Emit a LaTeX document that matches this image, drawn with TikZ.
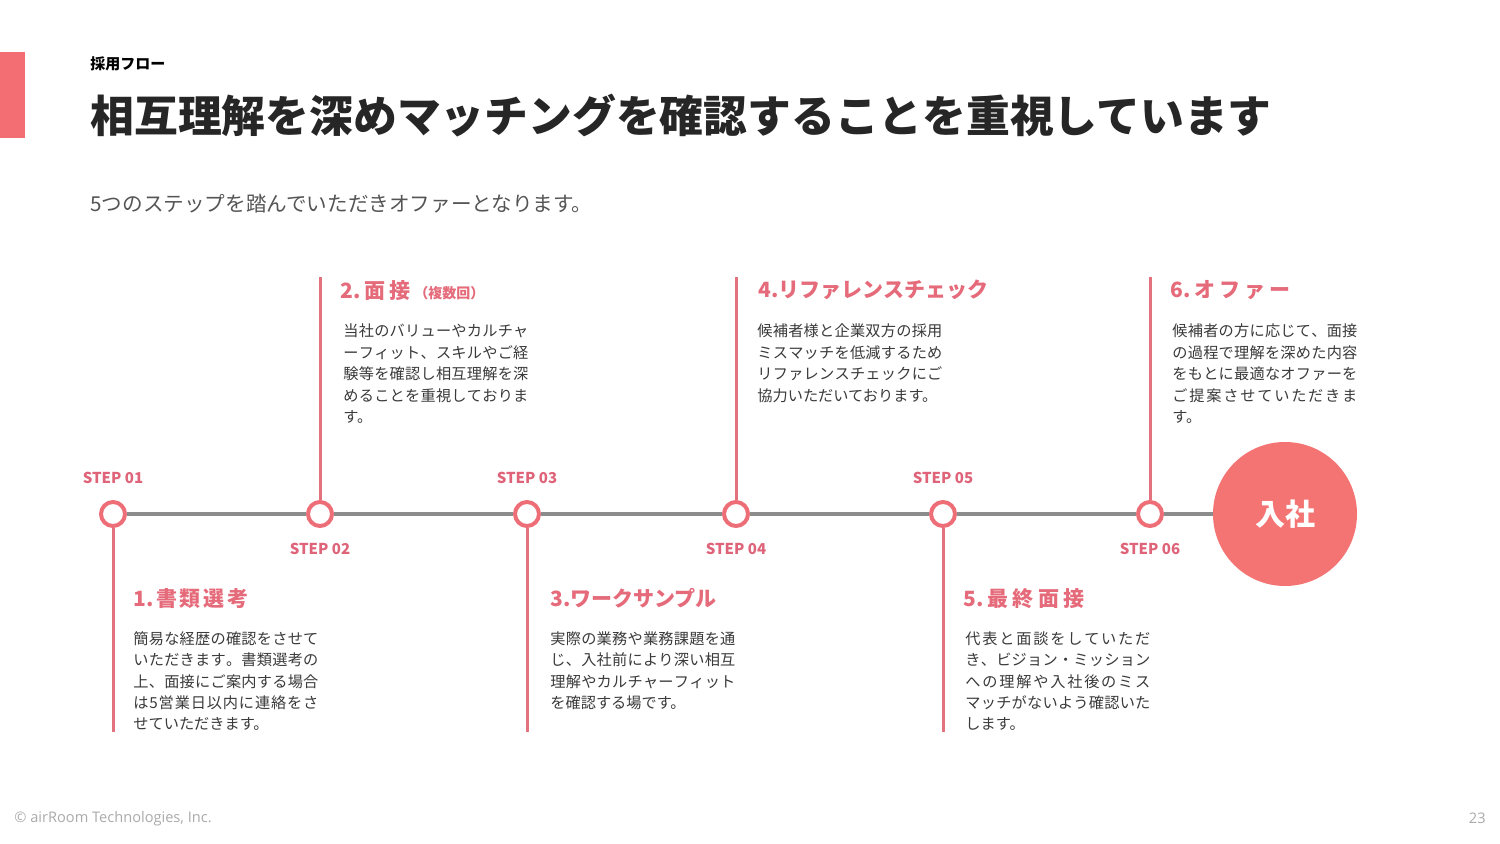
\documentclass[tikz,border=0pt]{standalone}
\usepackage{fontspec}
\setmainfont{Noto Sans CJK JP}
\newfontfamily\footfont{Open Sans}
\definecolor{barred}{HTML}{F26E73}
\definecolor{bigred}{HTML}{F47474}
\definecolor{ringred}{HTML}{EE6E77}
\definecolor{vlred}{HTML}{E2737E}
\definecolor{headred}{HTML}{E56A7A}
\definecolor{stepred}{HTML}{DF6479}
\definecolor{tlgray}{HTML}{8C8C8C}
\definecolor{bodyc}{HTML}{3A3A3A}
\definecolor{subc}{HTML}{555555}
\definecolor{footc}{HTML}{AAAAAA}
% spread characters of a line over a fixed width
\def\spr#1{\sprA#1\relax}
\def\sprA#1{#1\sprB}
\def\sprB#1{\ifx#1\relax\else\hfill#1\expandafter\sprB\fi}
\newcommand\jl[1]{\hbox to 92.5pt{\spr{#1}}}
\newcommand\jlast[1]{\hbox{#1}}
\newcommand\hw[2]{\hbox to #1pt{\spr{#2}}}
\tikzset{
  ring/.style={circle, draw=ringred, line width=2pt, fill=white, minimum size=12pt, inner sep=0pt},
  bigcirc/.style={circle, fill=bigred, minimum size=72pt, inner sep=0pt, text=white, font=\fontsize{15}{18}\selectfont\bfseries},
  tl/.style={draw=tlgray, line width=2pt},
  vl/.style={draw=vlred, line width=1.5pt},
  steplab/.style={anchor=base, inner sep=0pt, text=stepred, font=\fontsize{7.5}{9}\selectfont\bfseries},
  head/.style={anchor=base west, inner sep=0pt, text=headred, font=\fontsize{10.5}{12}\selectfont\bfseries},
  body/.style={anchor=base west, inner sep=0pt, text=bodyc, font=\fontsize{7.6}{10.75}\selectfont},
}
\begin{document}
\begin{tikzpicture}[x=0.5pt, y=-0.5pt]
\useasboundingbox (0,0) rectangle (1500,844);
\fill[white] (0,0) rectangle (1500,844);
% header
\fill[barred] (0,52) rectangle (25,138);
\node[anchor=base west, inner sep=0pt, font=\fontsize{7.5}{9}\selectfont\bfseries] (lab) at (90,70) {採用フロー};
\node[anchor=base west, inner sep=0pt, text=black!85, font=\fontsize{21.9}{26}\selectfont\bfseries] (title) at (90,133) {相互理解を深めマッチングを確認することを重視しています};
\node[anchor=base west, inner sep=0pt, text=subc, font=\fontsize{10.3}{12}\selectfont] (sub) at (90,212) {5つのステップを踏んでいただきオファーとなります。};
% vertical line end points
\coordinate (e1) at (113,732);
\coordinate (e2) at (320,277);
\coordinate (e3) at (527,732);
\coordinate (e4) at (736,277);
\coordinate (e5) at (943,732);
\coordinate (e6) at (1150,277);
% step circles
\node[ring] (s1) at (113,514) {};
\node[ring] (s2) at (320,514) {};
\node[ring] (s3) at (527,514) {};
\node[ring] (s4) at (736,514) {};
\node[ring] (s5) at (943,514) {};
\node[ring] (s6) at (1150,514) {};
\node[bigcirc] (join) at (1285,514) {入社};
% connectors
\path[tl] (s1) -- (s2) -- (s3) -- (s4) -- (s5) -- (s6) -- (join);
\path[vl] (s1) -- (e1);
\path[vl] (e2) -- (s2);
\path[vl] (s3) -- (e3);
\path[vl] (e4) -- (s4);
\path[vl] (s5) -- (e5);
\path[vl] (e6) -- (s6);
% step labels
\node[steplab] (l1) at (113,483.5) {STEP 01};
\node[steplab] (l2) at (320,554.5) {STEP 02};
\node[steplab] (l3) at (527,483.5) {STEP 03};
\node[steplab] (l4) at (736,554.5) {STEP 04};
\node[steplab] (l5) at (943,483.5) {STEP 05};
\node[steplab] (l6) at (1150,554.5) {STEP 06};
% headings
\node[head] (h1) at (133,606) {\hw{57.5}{{1.}書類選考}};
\node[head] (h2) at (340,299) {\hw{35}{{2.}面接}\hspace{2pt}{\fontsize{7}{9}\selectfont（複数回）}};
\node[head] (h3) at (550,606) {3.ワークサンプル};
\node[head] (h4) at (758,298) {4.リファレンスチェック};
\node[head] (h5) at (963,606) {\hw{60.5}{{5.}最終面接}};
\node[head] (h6) at (1170,298) {\hw{60}{{6.}オファー}};
% bodies
\node[body] (b1) at (133,644) {\vtop{\jl{簡易な経歴の確認をさせて}\jl{いただきます。書類選考の}\jl{上、面接にご案内する場合}\jl{は5営業日以内に連絡をさ}\jlast{せていただきます。}}};
\node[body] (b2) at (343,337) {\vtop{\jl{当社のバリューやカルチャ}\jl{ーフィット、スキルやご経}\jl{験等を確認し相互理解を深}\jl{めることを重視しておりま}\jlast{す。}}};
\node[body] (b3) at (550,644) {\vtop{\jl{実際の業務や業務課題を通}\jl{じ、入社前により深い相互}\jl{理解やカルチャーフィット}\jlast{を確認する場です。}}};
\node[body] (b4) at (757,337) {\vtop{\jl{候補者様と企業双方の採用}\jl{ミスマッチを低減するため}\jl{リファレンスチェックにご}\jlast{協力いただいております。}}};
\node[body] (b5) at (965,644) {\vtop{\jl{代表と面談をしていただ}\jl{き、ビジョン・ミッション}\jl{への理解や入社後のミス}\jl{マッチがないよう確認いた}\jlast{します。}}};
\node[body] (b6) at (1172,337) {\vtop{\jl{候補者の方に応じて、面接}\jl{の過程で理解を深めた内容}\jl{をもとに最適なオファーを}\jl{ご提案させていただきま}\jlast{す。}}};
% footer
\node[anchor=base west, inner sep=0pt, text=footc, font=\footfont\fontsize{7.3}{9}\selectfont] (foot) at (14,822) {© airRoom Technologies, Inc.};
\node[anchor=base east, inner sep=0pt, text=footc, font=\footfont\fontsize{7.3}{9}\selectfont] (page) at (1486,823) {23};
\end{tikzpicture}
\end{document}
